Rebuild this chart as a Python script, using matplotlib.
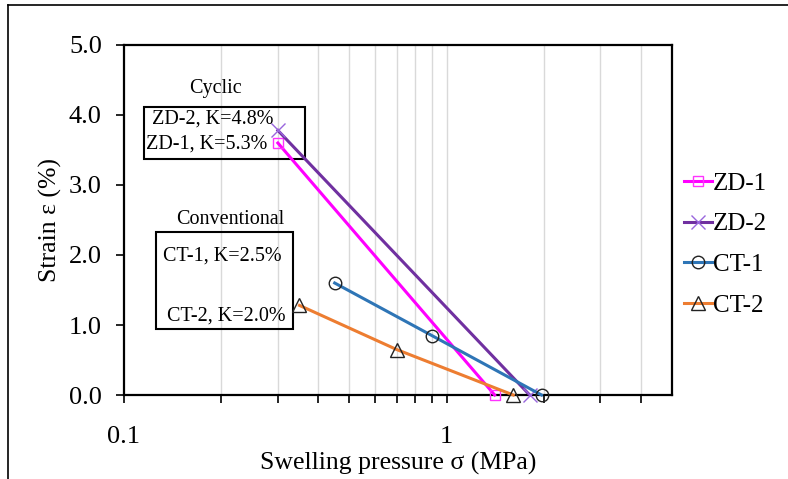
import matplotlib
matplotlib.use("Agg")
import matplotlib.pyplot as plt
from matplotlib.patches import Rectangle
from matplotlib.lines import Line2D
from matplotlib.ticker import FixedLocator, NullFormatter, FixedFormatter

plt.rcParams['font.family'] = ['Liberation Serif', 'DejaVu Serif']

# Data
zd1_x = [0.3, 1.41]
zd1_y = [3.6, 0.0]
zd2_x = [0.3, 1.81]
zd2_y = [3.78, 0.0]
ct1_x = [0.45, 0.9, 1.97]
ct1_y = [1.6, 0.85, 0.0]
ct2_x = [0.35, 0.70, 1.61]
ct2_y = [1.28, 0.65, 0.0]

series_labels = ['ZD-1', 'ZD-2', 'CT-1', 'CT-2']
y_ticks = [0, 1, 2, 3, 4, 5]
y_tick_labels = ['0.0', '1.0', '2.0', '3.0', '4.0', '5.0']
x_major = [0.1, 1]
x_major_labels = ['0.1', '1']
x_minor = [0.2, 0.3, 0.4, 0.5, 0.6, 0.7, 0.8, 0.9, 2, 3, 4]

fig = plt.figure(figsize=(7.88, 4.79), dpi=100)
ax = fig.add_axes([124/788, 1-395/479, 548/788, 350/479])

ax.set_xscale('log')
ax.set_xlim(0.1, 5)
ax.set_ylim(0, 5)

# grid
for gx in x_minor + [1]:
    ax.axvline(gx, color='#d9d9d9', lw=1.0, zorder=0)

lw = 2.2
ax.plot(zd1_x, zd1_y, color='#ff00ff', lw=lw, marker='s', ms=7.5,
        mfc='none', mec='#ff33ff', mew=1.0, label=series_labels[0], clip_on=False, zorder=3)
ax.plot(zd2_x, zd2_y, color='#7030a0', lw=lw, marker='x', ms=10,
        mec='#9966dd', mew=1.0, label=series_labels[1], clip_on=False, zorder=3)
ax.plot(ct1_x, ct1_y, color='#2e75b6', lw=lw, marker='o', ms=9,
        mfc='none', mec='#222222', mew=1.0, label=series_labels[2], clip_on=False, zorder=3)
ax.plot(ct2_x, ct2_y, color='#ed7d31', lw=lw, marker='^', ms=9.5,
        mfc='none', mec='#222222', mew=1.0, label=series_labels[3], clip_on=False, zorder=3)

ax.xaxis.set_major_locator(FixedLocator(x_major))
ax.xaxis.set_major_formatter(FixedFormatter(x_major_labels))
ax.xaxis.set_minor_locator(FixedLocator(x_minor))
ax.xaxis.set_minor_formatter(NullFormatter())
ax.set_yticks(y_ticks)
ax.set_yticklabels(y_tick_labels)

ax.tick_params(axis='both', which='both', direction='out', length=6, width=1.2,
               labelsize=19, colors='black')
ax.tick_params(axis='x', which='major', pad=16)
ax.tick_params(axis='y', which='major', pad=10)

for s in ax.spines.values():
    s.set_linewidth(1.6)
    s.set_color('black')

ax.set_xlabel('Swelling pressure σ (MPa)', fontsize=18.5)
ax.set_ylabel('Strain ε (%)', fontsize=18.5)
ax.xaxis.label.set_va('center')
ax.yaxis.label.set_va('center')
ax.xaxis.set_label_coords(0.5, (395 - 463) / 350)
ax.yaxis.set_label_coords((50 - 124) / 548, 0.5)

# annotations
tf = 14.5
ax.text(0.166, 0.877, 'Cyclic', transform=ax.transAxes, ha='center', va='center', fontsize=tf)
ax.add_patch(Rectangle((0.0365, 0.674), 0.2935, 0.149, transform=ax.transAxes,
                       fill=False, ec='black', lw=1.5, clip_on=False, zorder=2))
ax.text(0.1624, 0.789, 'ZD-2, K=4.8%', transform=ax.transAxes, ha='center', va='center', fontsize=tf)
ax.text(0.1515, 0.717, 'ZD-1, K=5.3%', transform=ax.transAxes, ha='center', va='center', fontsize=tf)

ax.text(0.1934, 0.50, 'Conventional', transform=ax.transAxes, ha='center', va='center', fontsize=tf)
ax.add_patch(Rectangle((0.0584, 0.1886), 0.25, 0.2771, transform=ax.transAxes,
                       fill=False, ec='black', lw=1.5, clip_on=False, zorder=2))
ax.text(0.1788, 0.397, 'CT-1, K=2.5%', transform=ax.transAxes, ha='center', va='center', fontsize=tf)
ax.text(0.186, 0.226, 'CT-2, K=2.0%', transform=ax.transAxes, ha='center', va='center', fontsize=tf)

leg = ax.legend(loc='center left', bbox_to_anchor=((684 - 124) / 548, 0.43), frameon=False,
                fontsize=18, handlelength=1.1, handletextpad=0.05, labelspacing=0.73,
                borderaxespad=0, borderpad=0)

# figure frame lines (top and left)
fig.add_artist(Line2D([8/788, 1.0], [1-5/479, 1-5/479], transform=fig.transFigure,
                      color='black', lw=1.2))
fig.add_artist(Line2D([8/788, 8/788], [0, 1-5/479], transform=fig.transFigure,
                      color='black', lw=1.2))

fig.savefig('out.png', dpi=100)
